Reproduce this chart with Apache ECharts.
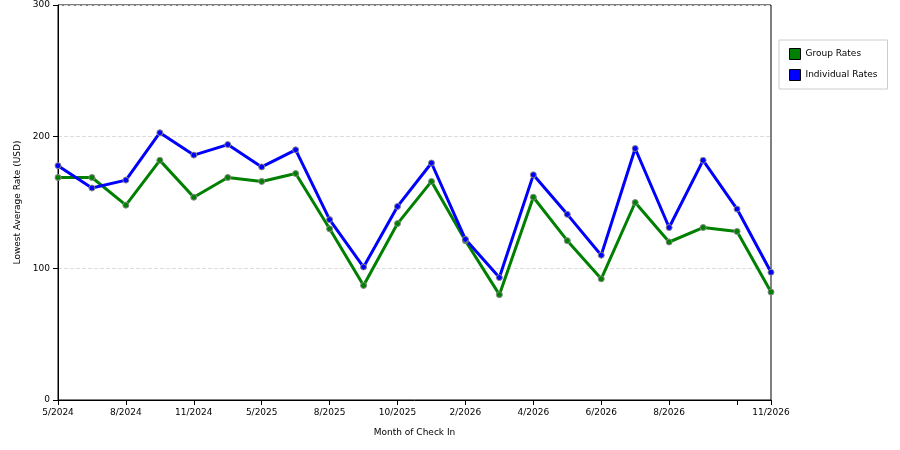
<!DOCTYPE html>
<html><head><meta charset="utf-8">
<script src="https://cdn.jsdelivr.net/npm/echarts@6/dist/echarts.min.js"></script>
<style>html,body{margin:0;padding:0;background:#fff}#c{width:900px;height:450px}</style>
</head><body><div id="c"></div>
<script>
var categories=['5/2024','6/2024','8/2024','9/2024','11/2024','12/2024','5/2025','6/2025','8/2025','9/2025','10/2025','12/2025','2/2026','3/2026','4/2026','5/2026','6/2026','7/2026','8/2026','9/2026','10/2026','11/2026'];
var shownLabels={0:1,2:1,4:1,6:1,8:1,10:1,12:1,14:1,16:1,18:1,21:1};
var tickIdx={0:1,2:1,4:1,6:1,8:1,10:1,12:1,14:1,16:1,18:1,20:1,21:1};
var groupRates=[169,169,148,182,154,169,166,172,130,87,134,166,121,80,154,121,92,150,120,131,128,82];
var individualRates=[178,161,167,203,186,194,177,190,137,101,147,180,122,93,171,141,110,191,131,182,145,97];
var chart=echarts.init(document.getElementById('c'));
function ser(name,data,color){return {name:name,type:'line',data:data,symbol:'circle',symbolSize:6,
 lineStyle:{color:color,width:3},itemStyle:{color:color,borderColor:'#888',borderWidth:1},animation:false};}
chart.setOption({
 animation:false,
 grid:{left:58,right:129,top:5,bottom:50,show:true,borderColor:'#000',borderWidth:1,backgroundColor:'transparent'},
 legend:{orient:'vertical',left:779,top:40,itemWidth:11,itemHeight:11,padding:[8,10,8,10],itemGap:9,
  borderColor:'#ccc',borderWidth:1,icon:'rect',textStyle:{fontSize:9,fontFamily:'DejaVu Sans',color:'#000'},
  data:[{name:'Group Rates',itemStyle:{color:'#008000',borderColor:'#000',borderWidth:1}},{name:'Individual Rates',itemStyle:{color:'#0000ff',borderColor:'#000',borderWidth:1}}]},
 xAxis:{type:'category',data:categories,boundaryGap:false,name:'Month of Check In',nameLocation:'middle',nameGap:28,
  nameTextStyle:{fontSize:9,fontFamily:'DejaVu Sans',color:'#000'},
  axisLine:{lineStyle:{color:'#000'}},
  axisTick:{interval:function(i){return !!tickIdx[i];},lineStyle:{color:'#000'}},
  axisLabel:{interval:function(i){return !!shownLabels[i];},fontSize:9,fontFamily:'DejaVu Sans',color:'#000'},
  splitLine:{show:false}},
 yAxis:{type:'value',min:0,max:300,interval:100,name:'Lowest Average Rate (USD)',nameLocation:'middle',nameGap:36,
  nameTextStyle:{fontSize:9,fontFamily:'DejaVu Sans',color:'#000'},
  axisLine:{show:true,lineStyle:{color:'#000'}},axisTick:{show:true,lineStyle:{color:'#000'}},
  axisLabel:{fontSize:9,fontFamily:'DejaVu Sans',color:'#000'},
  splitLine:{show:true,lineStyle:{color:'#ddd',type:'dashed'}}},
 series:[ser('Group Rates',groupRates,'#008000'),ser('Individual Rates',individualRates,'#0000ff')]
});
</script></body></html>
